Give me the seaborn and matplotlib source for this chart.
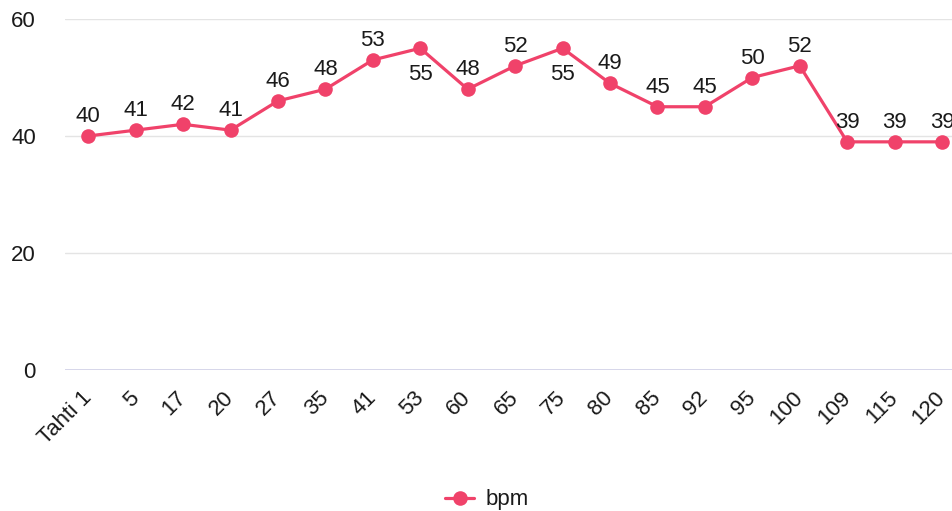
import matplotlib
matplotlib.use("Agg")
import matplotlib.pyplot as plt
import seaborn as sns
import pandas as pd
from matplotlib.lines import Line2D

categories = ["Tahti 1", "5", "17", "20", "27", "35", "41", "53", "60", "65",
              "75", "80", "85", "92", "95", "100", "109", "115", "120"]
bpm = [40, 41, 42, 41, 46, 48, 53, 55, 48, 52, 55, 49, 45, 45, 50, 52, 39, 39, 39]
label_below = ["53", "75"]
series_name = "bpm"

color = "#F0426A"
txt = "#1a1a1a"
fs = 16

sns.set_theme(style="white")
plt.rcParams["font.family"] = ["Liberation Sans", "DejaVu Sans"]

fig = plt.figure(figsize=(9.52, 5.11), dpi=100)
ax = fig.add_axes([65 / 952, 1 - 370 / 511, 1 - 65 / 952, (370 - 19) / 511])

df = pd.DataFrame({"cat": categories, "bpm": bpm})
sns.lineplot(data=df, x="cat", y="bpm", sort=False, ax=ax, color=color,
             linewidth=2.3, marker="o", markersize=10.5, markeredgewidth=0,
             legend=False, clip_on=False, zorder=3)

n = len(categories)
ax.set_xlim(-0.49, n - 1 + 0.21)
ax.set_ylim(0, 60)
ax.set_yticks([0, 20, 40, 60])
for y in [20, 40, 60]:
    ax.axhline(y, color="#e4e4e4", linewidth=1.0, zorder=0)
ax.axhline(0, color="#cfd0e6", linewidth=1.2, zorder=0)

for c, v in zip(categories, bpm):
    if c in label_below:
        ax.annotate(str(v), xy=(c, v), xytext=(0, -19), textcoords="offset points",
                    ha="center", va="center", fontsize=fs, color=txt)
    else:
        ax.annotate(str(v), xy=(c, v), xytext=(0, 14), textcoords="offset points",
                    ha="center", va="center", fontsize=fs, color=txt)

for s in ax.spines.values():
    s.set_visible(False)
ax.set_xlabel("")
ax.set_ylabel("")
ax.tick_params(axis="y", length=0, pad=21, labelsize=fs, labelcolor=txt)
ax.tick_params(axis="x", length=0, pad=18, labelsize=fs, labelcolor=txt)
plt.setp(ax.get_xticklabels(), rotation=45, ha="right", va="center",
         rotation_mode="anchor")
for t in ax.get_yticklabels():
    t.set_ha("right")

handle = Line2D([], [], color=color, marker="o", markersize=10.5, linewidth=2.3,
                markeredgewidth=0)
fig.legend([handle], [series_name], loc="center", bbox_to_anchor=(487 / 952, 1 - 500 / 511),
           frameon=False, fontsize=fs, handlelength=1.3, handletextpad=0.5,
           labelcolor=txt)

fig.savefig("out.png", dpi=100)
